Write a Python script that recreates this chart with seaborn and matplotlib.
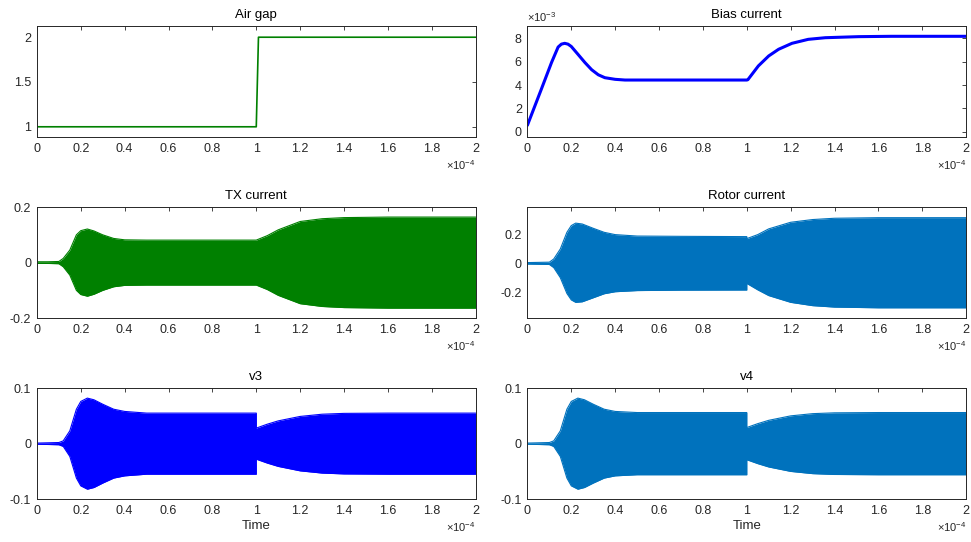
import numpy as np
import pandas as pd
import matplotlib
matplotlib.use("Agg")
import matplotlib.pyplot as plt
from matplotlib.ticker import FuncFormatter, MultipleLocator
import seaborn as sns

# ---- data (time in units of 1e-4 s) ----
gap_t = [0.0, 1.0, 1.01, 2.0]
gap_val = [1.0, 1.0, 2.0, 2.0]

bias_t = [0.0, 0.064, 0.11, 0.14, 0.155, 0.17, 0.185, 0.2, 0.23, 0.262, 0.293,
          0.323, 0.353, 0.4, 0.445, 0.6, 1.0, 1.005, 1.053, 1.1, 1.145, 1.206,
          1.28, 1.358, 1.51, 1.66, 2.0]
bias_val = [0.56, 3.67, 5.93, 7.25, 7.5, 7.57, 7.5, 7.3, 6.64, 5.93, 5.31,
            4.88, 4.63, 4.49, 4.43, 4.43, 4.43, 4.46, 5.64, 6.49, 7.06, 7.57,
            7.91, 8.05, 8.14, 8.17, 8.17]  # x1e-3

tx_t = [0.0, 0.05, 0.1, 0.12, 0.15, 0.18, 0.2, 0.23, 0.26, 0.3, 0.35, 0.4, 0.5,
        0.7, 1.0, 1.05, 1.1, 1.2, 1.3, 1.4, 1.6, 2.0]
tx_amp = [0.003, 0.003, 0.004, 0.015, 0.045, 0.1, 0.115, 0.121, 0.114, 0.1, 0.087,
          0.082, 0.081, 0.081, 0.081, 0.097, 0.118, 0.148, 0.158, 0.162, 0.164, 0.164]

rot_t = [0.0, 0.1, 0.12, 0.15, 0.18, 0.2, 0.22, 0.25, 0.3, 0.35, 0.4, 0.5, 0.7,
         1.0, 1.0, 1.05, 1.1, 1.2, 1.3, 1.4, 1.6, 2.0]
rot_hi = [0.005, 0.008, 0.03, 0.1, 0.216, 0.263, 0.28, 0.274, 0.244, 0.216, 0.2,
          0.19, 0.188, 0.186, 0.172, 0.2, 0.24, 0.286, 0.305, 0.314, 0.318, 0.318]
rot_lo = [-0.005, -0.008, -0.03, -0.1, -0.21, -0.255, -0.272, -0.268, -0.24, -0.212,
          -0.198, -0.19, -0.187, -0.186, -0.14, -0.185, -0.225, -0.272, -0.295,
          -0.305, -0.31, -0.31]

v_t = [0.0, 0.1, 0.12, 0.15, 0.18, 0.2, 0.23, 0.26, 0.3, 0.35, 0.4, 0.5, 0.7,
       1.0, 1.0, 1.05, 1.1, 1.2, 1.3, 1.4, 1.6, 2.0]
v3_amp = [0.001, 0.002, 0.005, 0.023, 0.062, 0.076, 0.082, 0.079, 0.071, 0.062,
          0.058, 0.055, 0.055, 0.055, 0.028, 0.035, 0.041, 0.049, 0.053, 0.0545,
          0.055, 0.055]
v4_amp = [0.001, 0.002, 0.005, 0.023, 0.062, 0.076, 0.082, 0.079, 0.071, 0.062,
          0.058, 0.056, 0.056, 0.056, 0.029, 0.036, 0.042, 0.05, 0.054, 0.0555,
          0.056, 0.056]

GREEN = "#008000"
BLUE = "#0000FF"
MBLUE = "#0072BD"
GRAY = "#262626"

sns.set_theme(style="white")
plt.rcParams["font.family"] = ["Liberation Sans", "DejaVu Sans"]
plt.rcParams["mathtext.fontset"] = "custom"
plt.rcParams["mathtext.rm"] = "Liberation Sans"
plt.rcParams["mathtext.it"] = "Liberation Sans:italic"

fig, axes = plt.subplots(3, 2, figsize=(9.71, 5.42), dpi=100)
fig.subplots_adjust(left=0.038, right=0.995, top=0.952, bottom=0.079,
                    wspace=0.118, hspace=0.63)


def sec(t):
    return np.array(t) * 1e-4


def band(ax, t, lo, hi, color):
    ax.fill_between(sec(t), lo, hi, color=color, lw=0)
    for edge in (lo, hi):
        df = pd.DataFrame({"t": sec(t), "y": edge})
        sns.lineplot(data=df, x="t", y="y", ax=ax, color=color, lw=0.8,
                     sort=False, estimator=None)


# Air gap
ax = axes[0, 0]
sns.lineplot(data=pd.DataFrame({"t": sec(gap_t), "y": gap_val}), x="t", y="y",
             ax=ax, color=GREEN, lw=1.2, sort=False, estimator=None)
ax.set_ylim(0.885, 2.125)
ax.set_yticks([1, 1.5, 2])
ax.set_title("Air gap")

# Bias current
ax = axes[0, 1]
sns.lineplot(data=pd.DataFrame({"t": sec(bias_t), "y": np.array(bias_val) * 1e-3}),
             x="t", y="y", ax=ax, color=BLUE, lw=2.2, sort=False, estimator=None)
ax.lines[-1].set_solid_joinstyle("round")
ax.set_ylim(-0.45e-3, 9.05e-3)
ax.set_yticks([0, 2e-3, 4e-3, 6e-3, 8e-3])
ax.yaxis.set_major_formatter(FuncFormatter(lambda v, p: "%g" % round(v * 1e3, 6)))
ax.text(0, 1.02, r"$\times10^{-3}$", transform=ax.transAxes, ha="left", va="bottom",
        fontsize=8, color=GRAY)
ax.set_title("Bias current")

# TX current
ax = axes[1, 0]
band(ax, tx_t, -np.array(tx_amp), tx_amp, GREEN)
ax.set_ylim(-0.2, 0.2)
ax.set_yticks([-0.2, 0, 0.2])
ax.set_title("TX current")

# Rotor current
ax = axes[1, 1]
band(ax, rot_t, rot_lo, rot_hi, MBLUE)
ax.set_ylim(-0.382, 0.392)
ax.set_yticks([-0.2, 0, 0.2])
ax.set_title("Rotor current")

# v3
ax = axes[2, 0]
band(ax, v_t, -np.array(v3_amp), v3_amp, BLUE)
ax.set_ylim(-0.1, 0.1)
ax.set_yticks([-0.1, 0, 0.1])
ax.set_title("v3")

# v4
ax = axes[2, 1]
band(ax, v_t, -np.array(v4_amp), v4_amp, MBLUE)
ax.set_ylim(-0.1, 0.1)
ax.set_yticks([-0.1, 0, 0.1])
ax.set_title("v4")

for i, ax in enumerate(axes.flat):
    ax.set_xlim(0, 2e-4)
    ax.xaxis.set_major_locator(MultipleLocator(0.2e-4))
    ax.xaxis.set_major_formatter(FuncFormatter(lambda v, p: "%g" % round(v * 1e4, 6)))
    if i != 1:
        ax.yaxis.set_major_formatter(FuncFormatter(lambda v, p: "%g" % round(v, 6)))
    ax.tick_params(direction="in", length=3, width=0.6, top=True, right=True,
                   labelsize=9, colors=GRAY, pad=4)
    for s in ax.spines.values():
        s.set_color(GRAY)
        s.set_linewidth(0.7)
    ax.title.set_fontsize(9.5)
    ax.title.set_color("black")
    ax.set_ylabel("")
    ax.set_xlabel("Time" if i >= 4 else "", fontsize=9.5, labelpad=2)
    ax.text(1.0, -0.19, r"$\times10^{-4}$", transform=ax.transAxes, ha="right",
            va="top", fontsize=8, color=GRAY)

fig.savefig("out.png", dpi=100)
